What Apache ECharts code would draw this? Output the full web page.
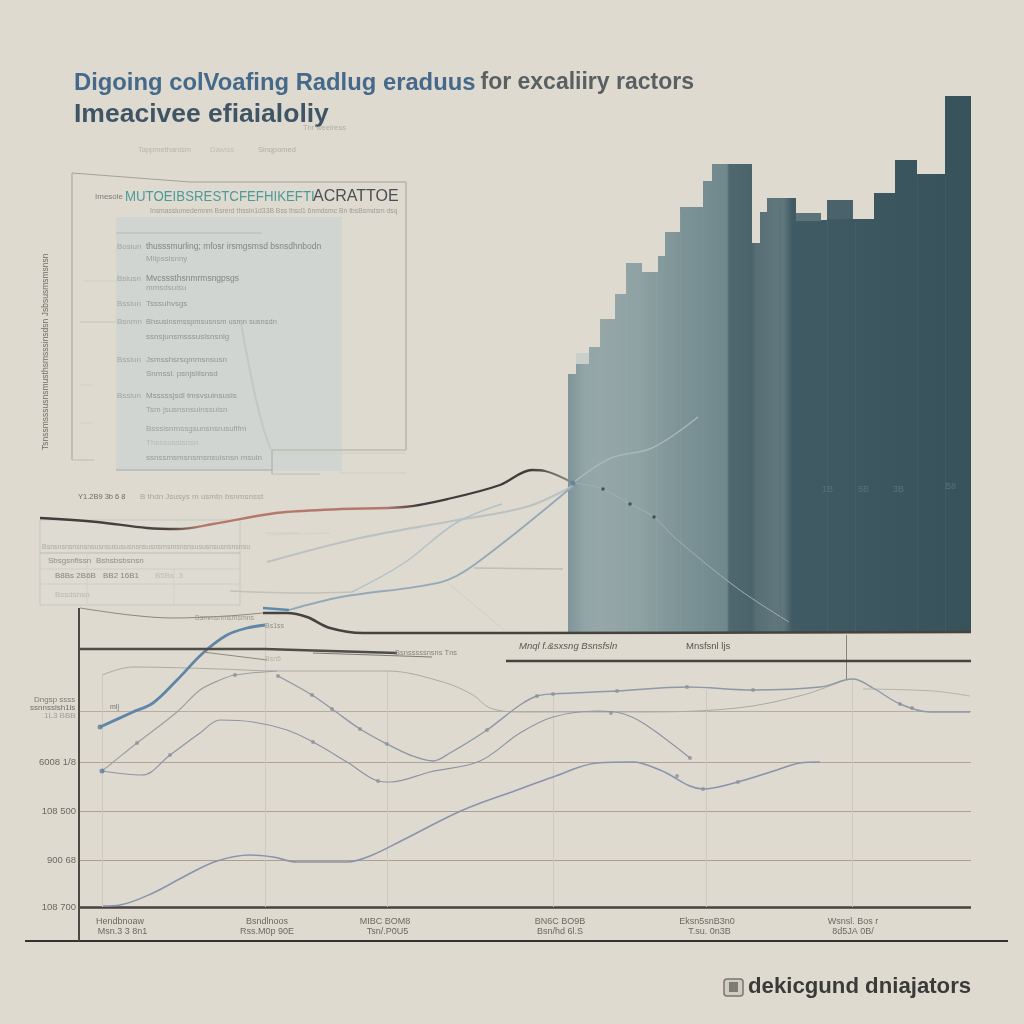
<!DOCTYPE html>
<html><head><meta charset="utf-8">
<style>html,body{margin:0;padding:0;background:#dedad0}#c{width:1024px;height:1024px}</style>
<script src="https://cdn.jsdelivr.net/npm/echarts@6/dist/echarts.min.js"></script>
</head><body><div id="c"></div>
<script>
// ---- bar data: start, end, value
const barStart=[568,576,589,600,615,626,642,658,665,680,703,712,728,752,760,767,796,821,827,853,874,895,917,945];
const barEnd  =[576,589,600,615,626,642,658,665,680,703,712,728,752,760,767,796,821,827,853,874,895,917,945,971];
const barValue=[258,268,285,313,338,369,360,376,400,425,451,468,468,389,420,434,411,412,413,413,439,472,458,536];
const backStart=[576,796,827];
const backEnd=[589,821,853];
const backValue=[279,419,432];
const stripeAt=[626,656,680,702,782,827,855,917,945];
const stripeTop=[360,360,420,445,430,410,410,455,455];
// ---- line data
const blueLine=[[100,180],[133,195],[153,204],[177,227],[203,254],[227,272],[247,279],[265,282]];
const riseLine=[[102,136],[112,144],[137,164],[177,195],[200,217],[220,227],[235,232],[277,236]];
const waveLine=[[278,231],[312,212],[332,198],[360,178],[387,163],[410,152],[433,146],[450,154],[487,177],[520,202],[537,211],[553,213],[617,216],[687,220],[753,217],[820,220],[845,227],[853,228],[873,219],[900,203],[930,195],[970,195]];
const plateauLine=[[102,232],[133,240],[220,238],[277,236],[387,236],[443,225],[473,212],[490,199],[520,195],[640,195],[737,199],[803,212],[845,227]];
const tailLine=[[863,218],[933,216],[970,211]];
const humpLine=[[102,136],[142,132],[170,152],[200,174],[220,187],[253,185],[287,177],[313,165],[347,145],[378,126],[390,125],[430,135],[480,146],[520,174],[553,190],[597,196],[620,194],[643,184],[690,149]];
const lowLine=[[103,1],[120,2],[153,14],[187,32],[217,46],[250,52],[273,50],[297,45],[347,45],[370,51],[403,67],[463,97],[520,118],[553,130],[597,144],[633,145],[660,137],[703,118],[738,125],[777,137],[800,144],[820,145]];
const darkThin=[[80,299],[130,292],[173,289],[227,291],[263,294]];
const darkThick=[[263,294],[287,294],[307,290],[330,279],[363,274],[520,274],[971,275]];
const mainCurve=[[40,389],[97,385],[147,379],[177,378],[213,383],[263,392],[286,395],[341,398],[404,400],[452,409],[500,422],[532,437],[545,436],[573,424]];
const mainTail=[[573,424],[600,419],[630,403],[654,390],[674,370],[737,319],[789,285]];
const fan1=[[267,345],[360,369],[452,386],[526,400],[573,421]];
const fan2=[[352,315],[404,344],[456,384],[502,403]];
const fan3=[[289,297],[341,310],[441,325],[474,342],[573,421]];
const fan3Blue=[[263,299],[289,297]];
const fan4=[[230,316],[304,314],[352,315]];
const fan5=[[474,339],[563,338]];
const fan6=[[448,324],[504,277]];
const fan7=[[573,424],[611,449],[652,459],[698,490]];
const rule1=[[80,258],[265,258],[330,256],[397,254]];
const rule1b=[[203,255],[267,247]];
const rule1c=[[313,254],[432,250]];
const rule2=[[506,246],[971,246]];
const greyDots=[[137,164],[235,232],[278,231],[312,212],[332,198],[360,178],[387,163],[487,177],[537,211],[553,213],[617,216],[687,220],[753,217],[900,203],[912,199],[170,152],[313,165],[378,126],[611,194],[690,149],[677,131],[703,118],[738,125]];
const blueDots=[[102,136],[100,180],[573,424]];
const darkDots=[[603,418],[630,403],[654,390]];
// ---- axis values and labels
const gridValues=[196,145,96,47];
const gridLabels=['','6008 1/8','108 500','900 68'];
const xTicks=[120,267,385,560,707,853];
const xLabels=['Hendbnoaw\n  Msn.3 3 8n1','Bsndlnoos\nRss.M0p 90E','MIBC BOM8\n  Tsn/.P0U5','BN6C BO9B\nBsn/hd 6l.S','Eksn5snB3n0\n  T.su. 0n3B','Wsnsl. Bos r\n8d5JA 0B/'];
const dropLines=[102,265,387,553,706,852];
const dropTops=[232,282,236,213,217,228];

const chart=echarts.init(document.getElementById('c'),null,{renderer:'canvas'});
const sans='"Liberation Sans",Arial,sans-serif';
const narrow='"Liberation Sans Narrow","Liberation Sans",sans-serif';
const barFill={type:'linear',x:568,y:0,x2:971,y2:0,global:true,colorStops:[
 [568,'#7f959a'],[585,'#93a5a7'],[600,'#96a7a8'],[640,'#8ea1a3'],[680,'#7d9497'],[727,'#6f888c'],[729,'#4f676e'],[752,'#4b636b'],[756,'#566e74'],[775,'#5e767c'],[785,'#5b7379'],[792,'#405b63'],[971,'#38525b']
].map(s=>({offset:(s[0]-568)/403,color:s[1]}))};
function rectItem(fill){return function(p,api){
  const a=api.coord([api.value(0),api.value(2)]),b=api.coord([api.value(1),0]);
  return {type:'rect',shape:{x:a[0],y:a[1],width:b[0]-a[0],height:b[1]-a[1]},style:{fill:fill(p.dataIndex)}};
};}
function L(name,data,color,width,opt){return Object.assign({type:'line',name,data,xAxisIndex:1,yAxisIndex:1,smooth:0.35,showSymbol:false,silent:true,z:5,
  lineStyle:{color,width}},opt||{});}
const T=(x,y,text,size,color,o)=>{o=o||{};return Object.assign({type:'text',silent:true,x:x,y:y,z:20,scaleX:o.sx||1,style:{text,fill:color,font:(o.weight||'normal')+' '+size+'px '+(o.family||narrow),textVerticalAlign:'middle',textAlign:o.align||'left'}},o.rot?{rotation:o.rot}:{});};
const HL=(x1,y1,x2,y2,color,w)=>({type:'line',silent:true,z:3,shape:{x1,y1,x2,y2},style:{stroke:color,lineWidth:w||1}});
const panelText=[
 [117,247,'Bosiun',8,'#a3a49e'],[146,247,'thusssmurling; mfosr irsmgsmsd bsnsdhnbodn',8.5,'#85857f'],[146,259,'Mlipsslsnny',8,'#a0a09a'],
 [117,279,'Bsiusn',8,'#a3a49e'],[146,279,'Mvcsssthsnmrmsngpsgs',8.5,'#85857f'],[146,288,'mmsdsuisu',8,'#a0a09a'],
 [117,304,'Bssiun',8,'#a3a49e'],[146,304,'Tsssuhvsgs',8,'#94948e'],
 [117,322,'Bsnmn',8,'#a3a49e'],[146,322,'Bhsusinsmsspmsusnsm usmn susnsdn',7.5,'#94948e'],[146,337,'ssnsjunsmsssuslsnsnlg',8,'#94948e'],
 [117,360,'Bssiun',8,'#a3a49e'],[146,360,'Jsmsshsrsqmmsnsusn',8,'#94948e'],[146,374,'Snmssl. psnjsiilsnsd',8,'#94948e'],
 [117,396,'Bssiun',8,'#a3a49e'],[146,396,'Msssssjsdl tmsvsuinsusis',8,'#94948e'],[146,410,'Tsm jsusnsnsuinssuisn',8,'#a0a09a'],
 [146,429,'Bsssisnmssgsunsnsrusuflfm',8,'#a0a09a'],[146,443,'Thsssussisnsn',8,'#b9b9b2'],[146,458,'ssnssmsmsnsmsnsuisnsn msuin',8,'#9a9a94']
];
const graphic=[
 {type:'rect',silent:true,z:1,shape:{x:116,y:217,width:226,height:254},style:{fill:'rgba(196,208,212,0.5)'}},
 {type:'polyline',silent:true,z:2,shape:{points:[[72,460],[72,173],[190,182],[406,182],[406,450]]},style:{stroke:'#a3a298',fill:null,lineWidth:1}},
 HL(116,233,262,233,'#b8b9b0'),HL(272,450,406,450,'#bdbdb3',1.5),HL(272,453,406,453,'#cfcfc5'),HL(116,470,272,470,'#a8aaa3'),HL(272,450,272,474,'#a8aaa3'),HL(72,460,94,460,'#bdbdb3'),
 HL(80,322,116,322,'#c5c4ba'),HL(84,281,116,281,'#cfcec4'),HL(80,385,92,385,'#d0cfc6'),HL(80,423,92,423,'#d0cfc6'),HL(272,474,320,474,'#c0c0b6'),HL(340,473,406,473,'#cfcfc5'),
 {type:'polyline',silent:true,z:2,shape:{smooth:0.3,points:[[241,322],[245,345],[255,395],[264,430],[271,450]]},style:{stroke:'#c3c8c6',fill:null,lineWidth:2}},
 {type:'polyline',silent:true,z:2,shape:{points:[[272,437],[300,427],[338,420]]},style:{stroke:'#d0d4d2',fill:null,lineWidth:1.5}},
 {type:'rect',silent:true,z:1,shape:{x:40,y:520,width:200,height:85},style:{fill:'rgba(222,222,212,0.5)',stroke:'#c9c8bd',lineWidth:1}},
 HL(40,553,240,553,'#bdbdb3'),HL(40,569,240,569,'#cfcec4'),HL(40,584,240,584,'#cfcec4'),HL(87,553,87,605,'#d2d1c7'),HL(174,569,174,605,'#d2d1c7'),
 HL(265,533,300,533,'#cfcec4'),HL(268,535,330,533,'#d3d2c8'),
 {type:'rect',silent:true,z:3,shape:{x:724,y:979,width:19,height:17,r:3},style:{fill:'#d0ccc2',stroke:'#77766f',lineWidth:1.5}},
 {type:'rect',silent:true,z:4,shape:{x:729,y:982,width:9,height:10},style:{fill:'#7c7b74'}},
 ...panelText.map(r=>T(r[0],r[1],r[2],r[3],r[4])),
 T(95,197,'Imesole',8,'#7d7d77'),
 T(125,197,'MUTOEIBSRESTCFEFHIKEFTI',15.5,'#4d9a98',{sx:0.855}),
 T(313,197,'ACRATTOE',16,'#4a4f52',{family:sans}),
 T(150,211,'Insmassiumedemnm Bsrerd thssin1d33B Bss thsd1 6nmdsmc Bn tbsBsmdsm dsq',8,'#9c9c96',{sx:0.85}),
 T(138,150,'Tappmethanism',7.5,'#b7b5aa'),T(210,150,'Dawiss',7.5,'#bfbdb2'),T(258,150,'Sinqpomed',7.5,'#b0aea3'),
 T(303,128,'Thr weeiress',7.5,'#b0aea3'),
 T(46,450,'Tsnssmsssusnsmusthsmsssinsdsn Jsbsusmsmsnsn',8.5,'#6f6e68',{rot:Math.PI/2}),
 T(78,497,'Y1.2B9 3b 6 8',7.5,'#6e6d66'),T(140,497,'B thdn Jsusys m usmtn bsnmsnsst',8,'#a7a69c'),
 T(42,547,'Bsnsnsnsnsnsnsusnsusususnsnsusnsmsmsnsnsususnsusnsnsnsu',7,'#aaaa9f'),
 T(48,561,'Sbsgsnfissn',8,'#8e8d85'),T(96,561,'Bshsbsbsnsn',8,'#8e8d85'),
 T(55,576,'B8Bs 2B6B',8,'#85847c'),T(103,576,'BB2 16B1',8,'#85847c'),T(155,576,'B5Bs .3',8,'#bdbcb2'),
 T(55,595,'Bssdsnsn',8,'#b9b8ae'),
 T(519,646,'Mnql f.&sxsng Bsnsfsln',9.5,'#57564f',{weight:'italic'}),T(686,646,'Mnsfsnl ljs',9.5,'#57564f'),
 T(34,700,'Dngsp ssss',8,'#7c7b74'),T(30,708,'ssnnsslsh1ls',8,'#6f6e68'),T(44,716,'1L3 BBB',8,'#a09f96'),T(110,707,'mlj',7,'#777'),
 T(265,626,'Bs1ss',7,'#8f8e86'),T(395,653,'Bsnsssssnsns Tns',7.5,'#85847c'),T(195,618,'Bsmmsnmsmsmns',7,'#98978d'),T(265,659,'Bsn5',7,'#b3b2a7'),
 T(822,490,'1B',9,'rgba(100,122,126,0.75)'),T(858,490,'5B',9,'rgba(100,122,126,0.75)'),T(893,490,'3B',9,'rgba(100,122,126,0.75)'),T(945,487,'B8',9,'rgba(100,122,126,0.75)'),
 T(748,987,'dekicgund dniajators',22.2,'#3a3a38',{weight:'bold',family:sans})
];
const option={
 backgroundColor:'#dedad0',animation:false,
 title:[
  {left:74,top:71,padding:0,text:'{a|Digoing colVoafing Radlug eraduus} {b|for excaliiry ractors}',
   textStyle:{rich:{a:{fontFamily:sans,fontWeight:'bold',fontSize:23.8,color:'#44698a'},b:{fontFamily:sans,fontSize:23,color:'#5a5f62'}}}},
  {left:74,top:101,padding:0,text:'Imeacivee efiaialoliy',textStyle:{fontFamily:sans,fontWeight:'bold',fontSize:26.5,color:'#3f5566'}}
 ],
 grid:[
  {left:568,top:96,width:403,height:536},
  {left:24,top:400,width:984,height:567}
 ],
 xAxis:[
  {gridIndex:0,type:'value',min:568,max:971,show:false},
  {gridIndex:1,type:'value',min:24,max:1008,offset:-59,splitLine:{show:false},axisLine:{show:false,onZero:false},axisTick:{show:false},
   axisLabel:{customValues:xTicks,margin:8,fontFamily:narrow,fontSize:9,lineHeight:10.5,color:'#6a6962',
    formatter:v=>xLabels[xTicks.indexOf(v)]||''}}
 ],
 yAxis:[
  {gridIndex:0,type:'value',min:0,max:536,show:false},
  {gridIndex:1,type:'value',min:-60,max:507,show:false}
 ],
 graphic:graphic,
 series:[
  {type:'custom',name:'back',xAxisIndex:0,yAxisIndex:0,silent:true,z:2,renderItem:rectItem(i=>['#c9cfca','#5b7379','#4a626a'][i]),
   encode:{x:[0,1],y:2},data:backStart.map((s,i)=>[s,backEnd[i],backValue[i]])},
  {type:'custom',name:'bars',xAxisIndex:0,yAxisIndex:0,silent:true,z:3,renderItem:rectItem(()=>barFill),
   encode:{x:[0,1],y:2},data:barStart.map((s,i)=>[s,barEnd[i],barValue[i]])},
  {type:'custom',name:'stripes',xAxisIndex:0,yAxisIndex:0,silent:true,z:4,renderItem:rectItem(()=>'rgba(255,255,255,0.045)'),
   encode:{x:[0,1],y:2},data:stripeAt.map((s,i)=>[s,s+1,stripeTop[i]])},
  {type:'line',name:'rules',xAxisIndex:1,yAxisIndex:1,data:[],silent:true,z:4,
   markLine:{silent:true,symbol:'none',animation:false,data:[
    ...gridValues.map((v,i)=>[{coord:[79,v],lineStyle:{color:['#b7aca3','#b3a297','#a9a096','#a99e91'][i],width:1,type:'solid'},
       label:{show:true,position:'start',distance:3,formatter:gridLabels[i],fontFamily:narrow,fontSize:9.5,color:'#6a6962'}},{coord:[971,v]}]),
    [{coord:[79,0],lineStyle:{color:'#45433e',width:2.5,type:'solid'},label:{show:true,position:'start',distance:3,formatter:'108 700',fontFamily:narrow,fontSize:9.5,color:'#6a6962'}},{coord:[971,0]}],
    [{coord:[25,-34],lineStyle:{color:'#33322f',width:2,type:'solid'},label:{show:false}},{coord:[1008,-34]}],
    [{coord:[79,-34],lineStyle:{color:'#4a4944',width:2,type:'solid'},label:{show:false}},{coord:[79,299]}],
    ...dropLines.map((x,i)=>[{coord:[x,0],lineStyle:{color:'#cdc9bf',width:1,type:'solid'},label:{show:false}},{coord:[x,dropTops[i]]}]),
    [{coord:[846,228],lineStyle:{color:'#86847c',width:1,type:'solid'},label:{show:false}},{coord:[846,272]}]
   ]}},
  L('plateau',plateauLine,'#a9aca6',1),
  L('tail',tailLine,'#b5b3a8',1),
  L('wave',waveLine,'#8f98a6',1.4),
  L('rise',riseLine,'#9aa0a2',1.2),
  L('hump',humpLine,'#8d94a4',1.2),
  L('low',lowLine,'#8b93ac',1.6),
  L('blue',blueLine,'#5f86a8',2.8),
  L('darkThin',darkThin,'#8a877d',1),
  L('darkThick',darkThick,'#45433e',2.6),
  L('rule1',rule1,'#4f4d48',2.4,{smooth:0}),
  L('rule1b',rule1b,'#8b887e',1,{smooth:0}),
  L('rule1c',rule1c,'#7c7a72',1.2,{smooth:0}),
  L('rule2',rule2,'#45433e',2.4,{smooth:0}),
  L('fan4',fan4,'#c2c2b8',1.5),
  L('fan5',fan5,'#bebeb4',1.5),
  L('fan6',fan6,'#d0cfc5',1),
  L('fan1',fan1,'#bcc2c2',2.2),
  L('fan2',fan2,'#b4c0c6',1.5),
  L('fan3',fan3,'#94a9b8',1.8),
  L('fan3Blue',fan3Blue,'#5a8bb0',2.5,{smooth:0}),
  L('fan7',fan7,'#a9b7b9',1.5,{z:6}),
  L('tailCurve',mainTail,'#a3b0b2',1,{z:6}),
  L('mainCurve',mainCurve,{type:'linear',x:40,y:0,x2:573,y2:0,global:true,colorStops:[
    {offset:0,color:'#3e3c39'},{offset:0.24,color:'#4a4440'},{offset:0.3,color:'#b5796b'},{offset:0.65,color:'#b5796b'},{offset:0.71,color:'#3f3d3a'},{offset:0.92,color:'#3f3d3a'},{offset:1,color:'#8d9290'}]},2.3,{z:6}),
  {type:'scatter',name:'greyDots',xAxisIndex:1,yAxisIndex:1,data:greyDots,symbolSize:4,silent:true,z:7,itemStyle:{color:'#8c919a'}},
  {type:'scatter',name:'blueDots',xAxisIndex:1,yAxisIndex:1,data:blueDots,symbolSize:5,silent:true,z:7,itemStyle:{color:'#5d7f9c'}},
  {type:'scatter',name:'darkDots',xAxisIndex:1,yAxisIndex:1,data:darkDots,symbolSize:3.5,silent:true,z:7,itemStyle:{color:'#2d3a40'}}
 ]
};
chart.setOption(option);
</script></body></html>
